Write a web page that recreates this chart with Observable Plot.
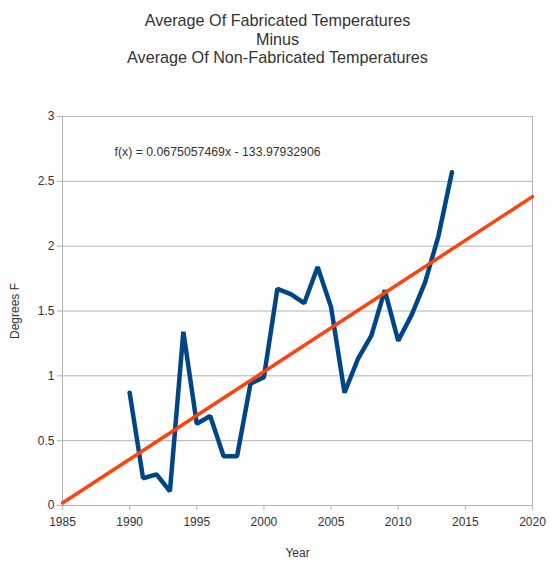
<!DOCTYPE html>
<html>
<head>
<meta charset="utf-8">
<script src="https://cdn.jsdelivr.net/npm/d3@7"></script>
<script src="https://cdn.jsdelivr.net/npm/@observablehq/plot@0.6"></script>
<style>
  html, body { margin: 0; padding: 0; background: #fff; }
  #title {
    width: 555px; height: 66px; box-sizing: border-box; padding-top: 11px;
    font-family: "Liberation Sans", Arial, sans-serif; font-size: 16.2px;
    line-height: 18.5px; color: #333; text-align: center;
  }
  svg { display: block; }
</style>
</head>
<body>
<div id="title"></div>
<div id="chart"></div>
<script>
const titleLines = ["Average Of Fabricated Temperatures", "Minus", "Average Of Non-Fabricated Temperatures"];
const years = [1990,1991,1992,1993,1994,1995,1996,1997,1998,1999,2000,2001,2002,2003,2004,2005,2006,2007,2008,2009,2010,2011,2012,2013,2014];
const values = [0.87,0.21,0.24,0.11,1.34,0.63,0.69,0.38,0.38,0.94,0.99,1.67,1.63,1.56,1.84,1.53,0.87,1.13,1.31,1.66,1.27,1.47,1.72,2.08,2.57];
const trendYears = [1985, 2020];
const slope = 0.0675057469;
const intercept = -133.97932906;
const equationLabel = "f(x) = 0.0675057469x - 133.97932906";
const xTicks = [1985,1990,1995,2000,2005,2010,2015,2020];
const yTicks = [0,0.5,1,1.5,2,2.5,3];
const xLabel = "Year";
const yLabel = "Degrees F";

document.getElementById("title").innerHTML = titleLines.map(t => `<div>${t}</div>`).join("");

const series = years.map((yr, i) => ({year: yr, value: values[i]}));
const trend = trendYears.map(yr => ({year: yr, value: slope * yr + intercept}));

const chart = Plot.plot({
  width: 555,
  height: 507,
  marginTop: 50,
  marginBottom: 68,
  marginLeft: 62,
  marginRight: 23,
  style: {fontFamily: "Liberation Sans, Arial, sans-serif", fontSize: "12px", color: "#333", background: "#fff"},
  x: {domain: [1985, 2020]},
  y: {domain: [0, 3]},
  marks: [
    Plot.gridY(yTicks, {stroke: "#b3b3b3", strokeOpacity: 1}),
    Plot.frame({stroke: "#b3b3b3"}),
    Plot.axisY(yTicks, {tickSize: 5, tickPadding: 3, stroke: "#b3b3b3", fill: "#333", fontSize: 12,
      tickFormat: d => String(d), label: yLabel, labelAnchor: "center", labelArrow: "none", labelOffset: 52}),
    Plot.axisX(xTicks, {tickSize: 5, tickPadding: 7, stroke: "#b3b3b3", fill: "#333", fontSize: 12,
      tickFormat: d => String(d), label: xLabel, labelAnchor: "center", labelArrow: "none", labelOffset: 51}),
    Plot.line(series, {x: "year", y: "value", stroke: "#004586", strokeWidth: 4.5, strokeLinejoin: "miter"}),
    Plot.line(trend, {x: "year", y: "value", stroke: "#ff420e", strokeWidth: 3.5}),
    Plot.text([equationLabel], {frameAnchor: "top-left", dx: 52, dy: 31, text: d => d, textAnchor: "start", fontSize: 12.3, fill: "#333"})
  ]
});
document.getElementById("chart").appendChild(chart);
</script>
</body>
</html>
